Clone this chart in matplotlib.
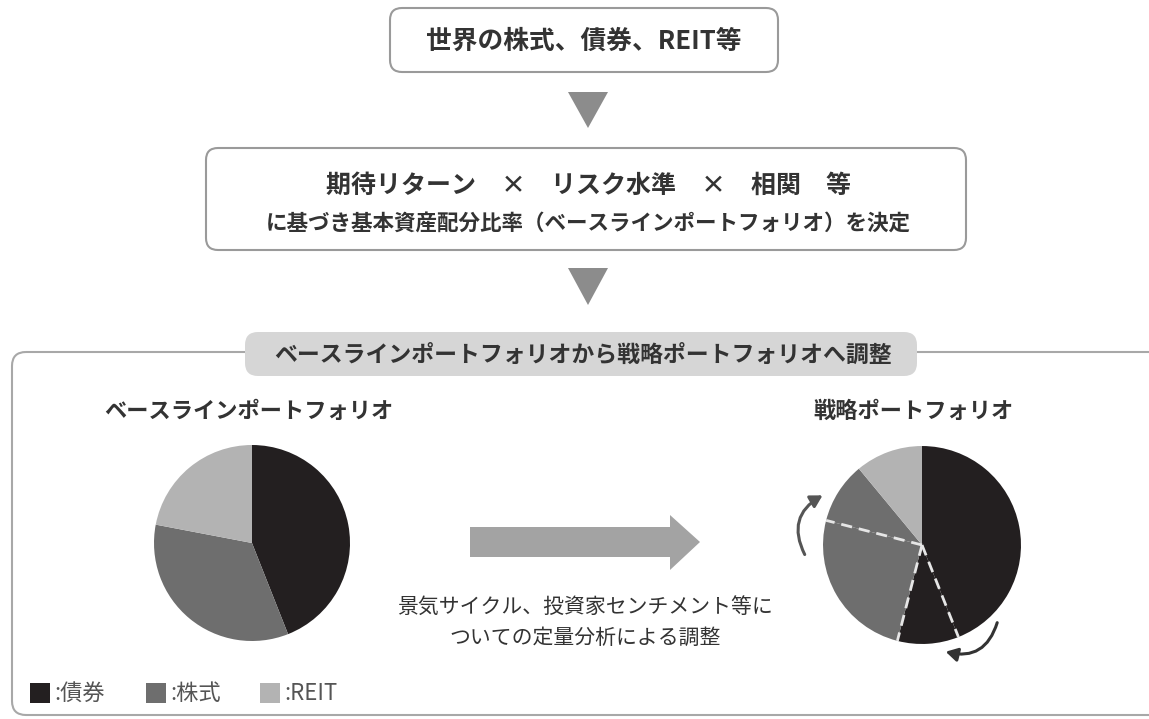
import matplotlib
matplotlib.use("Agg")
import matplotlib.pyplot as plt
from matplotlib.patches import FancyBboxPatch, Polygon, FancyArrowPatch, Rectangle
import numpy as np

plt.rcParams['font.family'] = ['Noto Sans CJK JP', 'DejaVu Sans']

# data (percent shares)
asset_names = ["債券", "株式", "REIT"]
asset_colors = ["#231f20", "#6e6e6e", "#b3b3b3"]
baseline_share = [44, 34, 22]
# strategic pie: original slices plus the shifted pieces (dashed borders)
strategic_share = [44, 10, 25, 10, 11]
strategic_colors = ["#231f20", "#231f20", "#6e6e6e", "#6e6e6e", "#b3b3b3"]
dashed_after = [0, 1, 2]  # wedge indexes followed by a dashed border

W, H = 1149, 719
txt = "#333333"

fig = plt.figure(figsize=(W / 100, H / 100), dpi=100)
ax = fig.add_axes([0, 0, 1, 1])
ax.set_xlim(0, W)
ax.set_ylim(H, 0)
ax.axis("off")


def rbox(x0, y0, x1, y1, r=12, **kw):
    p = FancyBboxPatch((x0, y0), x1 - x0, y1 - y0,
                       boxstyle=f"round,pad=0,rounding_size={r}", **kw)
    ax.add_patch(p)
    return p


# top box
rbox(390, 8, 778, 72, fc="white", ec="#9a9a9a", lw=1.5)
ax.text(584, 41, "世界の株式、債券、REIT等", ha="center", va="center",
        fontsize=18.5, fontweight="bold", color=txt)
ax.add_patch(Polygon([(568, 92), (608, 92), (588, 128)], closed=True, color="#8c8c8c", lw=0))

# second box
rbox(206, 148, 966, 250, fc="white", ec="#9a9a9a", lw=1.5)
ax.text(588, 186, "期待リターン　×　リスク水準　×　相関　等", ha="center", va="center",
        fontsize=18, fontweight="bold", color=txt)
ax.text(588, 223, "に基づき基本資産配分比率（ベースラインポートフォリオ）を決定", ha="center", va="center",
        fontsize=15.5, fontweight="bold", color=txt)
ax.add_patch(Polygon([(568, 268), (608, 268), (588, 305)], closed=True, color="#8c8c8c", lw=0))

# lower panel
rbox(12, 352, 1175, 715, r=14, fc="none", ec="#a8a8a8", lw=1.5, zorder=1)
rbox(245, 332, 917, 376, r=13, fc="#d6d6d6", ec="none", zorder=2)
ax.text(583, 355, "ベースラインポートフォリオから戦略ポートフォリオへ調整", ha="center", va="center",
        fontsize=16.5, fontweight="bold", color=txt, zorder=3)

ax.text(249, 411, "ベースラインポートフォリオ", ha="center", va="center",
        fontsize=16, fontweight="bold", color=txt)
ax.text(914, 411, "戦略ポートフォリオ", ha="center", va="center",
        fontsize=16, fontweight="bold", color=txt)

# big arrow
ax.add_patch(Polygon([(470, 527), (670, 527), (670, 515), (700, 542), (670, 570),
                      (670, 557), (470, 557)], closed=True, color="#a3a3a3", lw=0))
ax.text(585, 607, "景気サイクル、投資家センチメント等に", ha="center", va="center",
        fontsize=15, color=txt)
ax.text(585, 638, "ついての定量分析による調整", ha="center", va="center",
        fontsize=15, color=txt)

# curved arrows around strategic pie
ax.add_patch(FancyArrowPatch((806, 557), (825, 494), connectionstyle="arc3,rad=-0.5",
                             arrowstyle="-|>,head_length=7,head_width=4", color="#555555",
                             lw=2.2, mutation_scale=1))
ax.add_patch(FancyArrowPatch((998, 620), (943, 651), connectionstyle="arc3,rad=-0.5",
                             arrowstyle="-|>,head_length=7,head_width=4", color="#333333",
                             lw=2.2, mutation_scale=1))

# legend
lx = [30, 146, 260]
for x, c, n in zip(lx, asset_colors, asset_names):
    ax.add_patch(Rectangle((x, 683), 20, 20, color=c, lw=0))
    ax.text(x + 24, 693, ":" + n, ha="left", va="center", fontsize=16, color="#555555")


def pie_axes(cx, cy, r):
    a = fig.add_axes([(cx - r) / W, 1 - (cy + r) / H, 2 * r / W, 2 * r / H])
    a.set_xlim(-1, 1)
    a.set_ylim(-1, 1)
    a.axis("off")
    return a


pa = pie_axes(252, 543, 100)
pa.pie(baseline_share, colors=asset_colors, startangle=90, counterclock=False,
       radius=0.98, wedgeprops=dict(lw=0))
pa.set_xlim(-1, 1)
pa.set_ylim(-1, 1)

pb = pie_axes(922, 545, 101)
pb.pie(strategic_share, colors=strategic_colors, startangle=90, counterclock=False,
       radius=0.98, wedgeprops=dict(lw=0))
pb.set_xlim(-1, 1)
pb.set_ylim(-1, 1)
cum = np.cumsum(strategic_share) / sum(strategic_share)
for i in dashed_after:
    ang = np.deg2rad(90 - 360 * cum[i])
    pb.plot([0, 0.98 * np.cos(ang)], [0, 0.98 * np.sin(ang)], color="#e6e6e6",
            lw=2, ls=(0, (4, 2.5)))

fig.savefig("out.png", dpi=100)
